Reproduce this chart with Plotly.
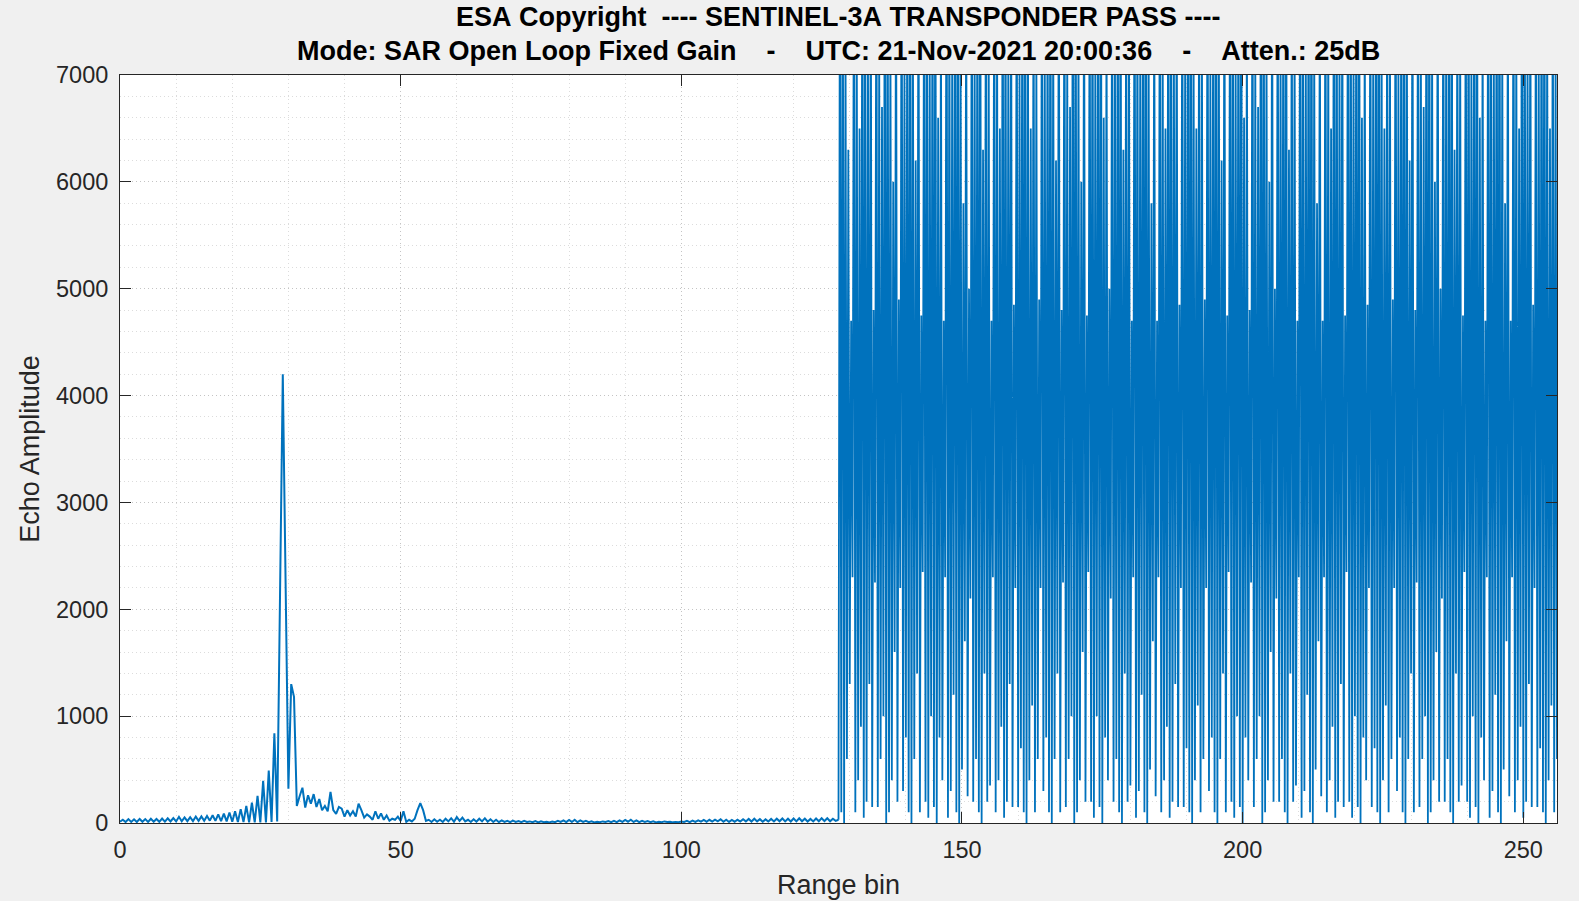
import numpy as np
import plotly.graph_objects as go

# echo samples, half-bin spacing, range bins 0 .. 128
left_echo = [
    12, 30, 9, 36, 10, 34, 9, 38, 11, 36, 10, 40, 12, 38, 11, 42,
    13, 44, 14, 46, 15, 58, 16, 52, 17, 55, 18, 60, 20, 62, 21, 66,
    22, 72, 20, 80, 18, 88, 15, 98, 12, 110, 10, 130, 8, 160, 6, 190,
    5, 255, 5, 395, 5, 490, 10, 840, 15, 2100, 4200, 2250, 320, 1300, 1180, 160,
    250, 330, 145, 260, 180, 270, 150, 225, 120, 160, 110, 290, 120, 85, 150, 135,
    60, 120, 70, 110, 60, 180, 120, 50, 80, 60, 30, 110, 40, 90, 30, 70,
    20, 40, 30, 60, 20, 110, 10, 30, 15, 40, 120, 185, 120, 20, 30, 10,
    35, 12, 30, 10, 40, 15, 45, 12, 55, 20, 50, 15, 30, 10, 35, 12,
    40, 15, 45, 12, 35, 10, 30, 8, 25, 10, 20, 8, 22, 10, 18, 8,
    20, 10, 15, 8, 18, 6, 15, 8, 12, 6, 14, 8, 20, 10, 25, 8,
    28, 10, 30, 8, 25, 10, 20, 8, 15, 6, 12, 8, 15, 10, 18, 8,
    20, 8, 25, 10, 28, 12, 30, 10, 25, 8, 20, 10, 18, 8, 15, 6,
    12, 8, 15, 10, 12, 6, 10, 8, 14, 10, 20, 8, 22, 10, 25, 12,
    28, 12, 30, 14, 32, 15, 35, 12, 30, 10, 28, 12, 30, 14, 35, 15,
    38, 14, 40, 15, 36, 12, 34, 14, 38, 15, 40, 16, 42, 15, 40, 14,
    42, 15, 44, 16, 40, 14, 38, 15, 42, 16, 45, 18, 44, 16, 40, 20,
    30,
]

# bins 128..256 (quarter-bin spacing): oscillation maxima and minima
right_peaks = [
    8600, 9300, 7400, 6300,
    4700, 8800, 7600, 6500, 9200, 8600, 7300, 8400,
    4800, 8900, 7300, 6700, 9300, 8900, 7500, 6000, 8600,
    4900, 9000, 7100, 8200, 9400, 7800, 6200, 8800,
    4750, 8500, 8900, 7200, 8700, 9300, 6600, 7800,
    4700, 9200, 8100, 7200, 8800, 9500, 7500, 5800, 8200,
    5000, 8700, 7400, 8800, 9100, 6300, 8300, 7600,
    4700, 8800, 7600, 6500, 9200, 8600, 7300, 8400,
    4850, 8600, 7100, 8900, 9400, 7700, 6500, 8500, 7300,
    4900, 9000, 7100, 8200, 9400, 7800, 6200, 8800,
    4800, 8900, 7300, 6700, 9300, 8900, 7500, 6000, 8600,
    4750, 8500, 8900, 7200, 8700, 9300, 6600, 7800,
    5000, 8700, 7400, 8800, 9100, 6300, 8300, 7600,
    4700, 9200, 8100, 7200, 8800, 9500, 7500, 5800, 8200,
    4700, 8800, 7600, 6500, 9200, 8600, 7300, 8400,
    4850, 8600, 7100, 8900, 9400, 7700, 6500, 8500, 7300,
    4900, 9000, 7100, 8200, 9400, 7800, 6200, 8800,
    4750, 8500, 8900, 7200, 8700, 9300, 6600, 7800,
    4800, 8900, 7300, 6700, 9300, 8900, 7500, 6000, 8600,
    5000, 8700, 7400, 8800, 9100, 6300, 8300, 7600,
    4700, 9200, 8100, 7200, 8800, 9500, 7500, 5800, 8200,
    4700, 8800, 7600, 6500, 9200, 8600, 7300, 8400,
    4750, 8500, 8900, 7200, 8700, 9300, 6600, 7800,
    4850, 8600, 7100, 8900, 9400, 7700, 6500, 8500, 7300,
    4900, 9000, 7100, 8200, 9400, 7800, 6200, 8800,
    4800, 8900, 7300, 6700, 9300, 8900, 7500, 6000, 8600,
    5000, 8700, 7400, 8800, 9100, 6300, 8300, 7600,
    4750, 8500, 8900, 7200, 8700, 9300, 6600, 7800,
    4700, 9200, 8100, 7200, 8800, 9500, 7500, 5800, 8200,
    4700, 8800, 7600, 6500, 9200, 8600, 7300, 8400,
    4850, 8600, 7100, 8900, 9400, 7700, 6500, 8500, 7300,
]
right_troughs = [
    100, 0, 600, 1300,
    2300, 100, 400, 900, 50, 200, 1300, 150,
    2250, 150, 600, 1000, 0, 100, 400, 1600, 200,
    2200, 300, 800, 100, 0, 600, 1400, 100,
    2350, 200, 50, 1000, 150, 0, 800, 400,
    2300, 50, 300, 1200, 100, 0, 500, 1700, 250,
    2100, 200, 600, 100, 0, 1400, 200, 350,
    2300, 100, 400, 900, 50, 200, 1300, 150,
    2200, 150, 700, 100, 0, 400, 1100, 100, 600,
    2200, 300, 800, 100, 0, 600, 1400, 100,
    2250, 150, 600, 1000, 0, 100, 400, 1600, 200,
    2350, 200, 50, 1000, 150, 0, 800, 400,
    2100, 200, 600, 100, 0, 1400, 200, 350,
    2300, 50, 300, 1200, 100, 0, 500, 1700, 250,
    2300, 100, 400, 900, 50, 200, 1300, 150,
    2200, 150, 700, 100, 0, 400, 1100, 100, 600,
    2200, 300, 800, 100, 0, 600, 1400, 100,
    2350, 200, 50, 1000, 150, 0, 800, 400,
    2250, 150, 600, 1000, 0, 100, 400, 1600, 200,
    2100, 200, 600, 100, 0, 1400, 200, 350,
    2300, 50, 300, 1200, 100, 0, 500, 1700, 250,
    2300, 100, 400, 900, 50, 200, 1300, 150,
    2350, 200, 50, 1000, 150, 0, 800, 400,
    2200, 150, 700, 100, 0, 400, 1100, 100, 600,
    2200, 300, 800, 100, 0, 600, 1400, 100,
    2250, 150, 600, 1000, 0, 100, 400, 1600, 200,
    2100, 200, 600, 100, 0, 1400, 200, 350,
    2350, 200, 50, 1000, 150, 0, 800, 400,
    2300, 50, 300, 1200, 100, 0, 500, 1700, 250,
    2300, 100, 400, 900, 50, 200, 1300, 150,
    2200, 150, 700, 100, 0, 400, 1100, 100, 600,
]

x_ticks = [0, 50, 100, 150, 200, 250]
title_lines = [
    "ESA Copyright  ---- SENTINEL-3A TRANSPONDER PASS ----",
    "Mode: SAR Open Loop Fixed Gain    -    UTC: 21-Nov-2021 20:00:36    -    Atten.: 25dB",
]

left_bins = np.arange(len(left_echo)) * 0.5
right_echo = np.empty(len(right_peaks) * 2)
right_echo[0::2] = right_peaks
right_echo[1::2] = right_troughs
right_bins = 128.25 + np.arange(len(right_echo)) * 0.25

FONT = "Liberation Sans, Arial, Helvetica, sans-serif"
AX = "#262626"
BLUE = "#0072BD"

fig = go.Figure()
fig.add_trace(go.Scatter(x=left_bins, y=left_echo, mode="lines",
                         line=dict(color=BLUE, width=2, simplify=False)))
# saturated part, joined to the last sample of the first half
fig.add_trace(go.Scatter(x=np.concatenate([[left_bins[-1]], right_bins]),
                         y=np.concatenate([[left_echo[-1]], right_echo]), mode="lines",
                         line=dict(color=BLUE, width=1.8, simplify=False)))

# two-line bold title, placed above the axes box
for txt, dy in zip(title_lines, [58, 24]):
    fig.add_annotation(text="<b>%s</b>" % txt.replace(" ", "\u00a0"),
                       xref="paper", yref="paper", x=0.5, y=1, yshift=dy,
                       xanchor="center", yanchor="middle", showarrow=False,
                       font=dict(size=27, color="black"))

grid = dict(showgrid=True, gridcolor="#c4c4c4", gridwidth=1, griddash="1px,3px",
            showline=True, linecolor=AX, linewidth=1, mirror="ticks",
            ticks="inside", ticklen=11, tickcolor=AX, tickwidth=1,
            zeroline=False, automargin=False,
            tickfont=dict(size=23.5, color=AX, family=FONT))

fig.update_layout(
    width=1579, height=901, showlegend=False,
    paper_bgcolor="#f0f0f0", plot_bgcolor="white",
    margin=dict(l=120, r=22, t=75, b=78),
    font=dict(family=FONT, color=AX),
    xaxis=dict(range=[0, 256], tickvals=x_ticks,
               minor=dict(dtick=10, showgrid=True, gridcolor="#dcdcdc", griddash="1px,3px", ticks=""),
               title=dict(text="Range bin", standoff=12, font=dict(size=27, color=AX)),
               ticklabelstandoff=6, **grid),
    yaxis=dict(range=[0, 7000], dtick=1000,
               minor=dict(dtick=200, showgrid=True, gridcolor="#dcdcdc", griddash="1px,3px", ticks=""),
               title=dict(text="Echo Amplitude", standoff=8, font=dict(size=27, color=AX)),
               ticklabelstandoff=6, **grid),
)

fig.write_html("out.html", config={"displayModeBar": False},
               post_script="document.body.style.margin='0';")
